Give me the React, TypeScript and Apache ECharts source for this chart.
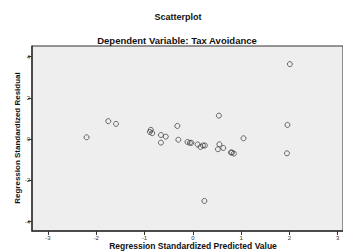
import React, { useEffect, useRef } from "react";
import * as echarts from "echarts";

const predicted: number[] = [
  -2.2, -1.75, -1.59, -0.89, -0.87, -0.84, -0.66, -0.56, -0.66, -0.32, -0.3,
  -0.11, -0.06, -0.03, 0.1, 0.16, 0.21, 0.25, 0.24, 0.54, 0.55, 0.52, 0.63,
  0.79, 0.81, 0.85, 1.05, 1.96, 1.95, 2.01,
];
const residual: number[] = [
  0.09, 0.87, 0.74, 0.35, 0.45, 0.29, 0.2, 0.12, -0.17, 0.64, -0.03,
  -0.14, -0.18, -0.18, -0.26, -0.38, -0.31, -0.31, -3.0, 1.14, -0.25, -0.49, -0.43,
  -0.65, -0.65, -0.7, 0.04, 0.69, -0.69, 3.64,
];
const xTicks: number[] = [-3, -2, -1, 0, 1, 2, 3];
const yTicks: number[] = [-4, -2, 0, 2, 4];

const FONT = "'Liberation Sans', Arial, sans-serif";

export default function App() {
  const ref = useRef<HTMLDivElement>(null);
  useEffect(() => {
    if (!ref.current) return;
    const chart = echarts.init(ref.current, null, { renderer: "svg" });
    chart.setOption({
      animation: false,
      backgroundColor: "#ffffff",
      textStyle: { fontFamily: FONT },
      grid: {
        left: 32,
        top: 46,
        right: 0,
        bottom: 21,
        show: true,
        backgroundColor: "#eeeeee",
        borderColor: "#333333",
        borderWidth: 1,
      },
      xAxis: {
        type: "value",
        min: -3.33,
        max: 3.11,
        splitLine: { show: false },
        axisLine: { show: true, onZero: false, lineStyle: { color: "#333", width: 1.5 } },
        axisTick: { show: true, length: 4, customValues: xTicks, lineStyle: { color: "#333" } },
        axisLabel: {
          customValues: xTicks,
          fontSize: 6,
          color: "#333",
          margin: 4,
          fontFamily: FONT,
          formatter: (v: number) => String(v),
        },
      },
      yAxis: {
        type: "value",
        min: -4.46,
        max: 4.52,
        splitLine: { show: false },
        axisLine: { show: true, onZero: false, lineStyle: { color: "#333", width: 1.5 } },
        axisTick: { show: true, length: 4, customValues: yTicks, lineStyle: { color: "#333" } },
        axisLabel: {
          customValues: yTicks,
          fontSize: 6,
          color: "#333",
          margin: 2,
          fontFamily: FONT,
          formatter: (v: number) => String(v),
        },
      },
      graphic: [
        {
          type: "text",
          x: 178,
          y: 17,
          style: {
            text: "Scatterplot",
            font: `bold 9px ${FONT}`,
            fill: "#111",
            textAlign: "center",
            textVerticalAlign: "middle",
          },
        },
        {
          type: "text",
          x: 177,
          y: 40,
          style: {
            text: "Dependent Variable: Tax Avoidance",
            font: `bold 9.5px ${FONT}`,
            fill: "#111",
            textAlign: "center",
            textVerticalAlign: "middle",
          },
        },
        {
          type: "text",
          x: 17,
          y: 138,
          rotation: Math.PI / 2,
          style: {
            text: "Regression Standardized Residual",
            font: `bold 8px ${FONT}`,
            fill: "#111",
            textAlign: "center",
            textVerticalAlign: "middle",
          },
        },
        {
          type: "text",
          x: 193,
          y: 246,
          style: {
            text: "Regression Standardized Predicted Value",
            font: `bold 8.5px ${FONT}`,
            fill: "#111",
            textAlign: "center",
            textVerticalAlign: "middle",
          },
        },
      ],
      series: [
        {
          type: "scatter",
          data: predicted.map((x, i) => [x, residual[i]]),
          symbol: "circle",
          symbolSize: 5,
          itemStyle: { color: "rgba(0,0,0,0)", borderColor: "#333", borderWidth: 0.9 },
        },
      ],
    });
    return () => chart.dispose();
  }, []);
  return (
    <div
      ref={ref}
      style={{ position: "absolute", left: 0, top: 0, width: 343, height: 252 }}
    />
  );
}
